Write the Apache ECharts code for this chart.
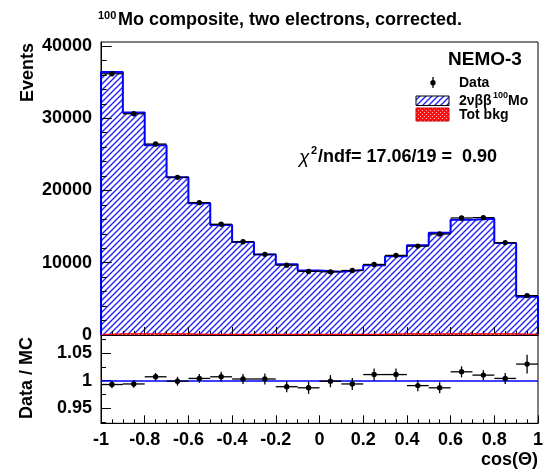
<!DOCTYPE html>
<html><head><meta charset="utf-8">
<script src="https://cdn.jsdelivr.net/npm/echarts@6/dist/echarts.min.js"></script>
<style>html,body{margin:0;padding:0;background:#fff}#c{width:552px;height:476px}</style>
</head><body><div id="c"></div>
<script>
// ---- data ----
const binCenters = [-0.95,-0.85,-0.75,-0.65,-0.55,-0.45,-0.35,-0.25,-0.15,-0.05,0.05,0.15,0.25,0.35,0.45,0.55,0.65,0.75,0.85,0.95];
const binWidth = 0.1;
const mcValues   = [36400,30800,26250,21840,18250,15220,12870,11130,9775,8920,8750,8980,9660,10900,12410,14160,15950,16090,12740,5290];
const dataValues = [36150,30620,26430,21820,18320,15330,12910,11160,9670,8800,8740,8930,9770,11020,12300,13980,16200,16250,12790,5450];
const bkgValues  = [170,170,170,170,80,80,80,80,80,80,80,80,80,170,170,170,170,170,170,80];
const ratioValues = [0.993,0.994,1.007,0.999,1.004,1.007,1.003,1.003,0.989,0.987,0.999,0.994,1.011,1.011,0.991,0.987,1.016,1.010,1.004,1.030];
const ratioErrors = [0.007,0.007,0.007,0.008,0.008,0.009,0.009,0.010,0.010,0.011,0.011,0.011,0.011,0.011,0.010,0.010,0.010,0.009,0.010,0.017];
const xTickLabels = [-1,-0.8,-0.6,-0.4,-0.2,0,0.2,0.4,0.6,0.8,1];
const yTicksUpper = [0,10000,20000,30000,40000];
const yMinorUpper = [2000,4000,6000,8000,12000,14000,16000,18000,22000,24000,26000,28000,32000,34000,36000,38000,40000];
const yTicksLower = [0.95,1,1.05];
const yMinorLower = [0.925,0.975,1.025,1.075];

const FONT = 'Liberation Sans, Arial, Helvetica, sans-serif';

function hatch(size, color, lw) {
  const c = document.createElement('canvas'); c.width = c.height = size;
  const g = c.getContext('2d'); g.strokeStyle = color; g.lineWidth = lw; g.beginPath();
  for (let k = -1; k <= 1; k++) { g.moveTo(k*size - 1, size + 1); g.lineTo(k*size + size + 1, -1); }
  g.stroke(); return c;
}
function dots(size) {
  const c = document.createElement('canvas'); c.width = c.height = size;
  const g = c.getContext('2d'); g.fillStyle = '#ff1010'; g.fillRect(0,0,size,size);
  g.fillStyle = '#ffb0b0'; g.fillRect(0,0,1,1); g.fillRect(2,2,1,1);
  return c;
}
const hatchCanvas = hatch(6, '#2222ff', 1.4);
const dotCanvas = dots(4);
const hatchFill = {image: hatchCanvas, repeat: 'repeat'};
const bkgFill = {image: dotCanvas, repeat: 'repeat'};

function stepOutline(vals) {
  const pts = [[binCenters[0]-binWidth/2, 0]];
  vals.forEach((v,i) => pts.push([binCenters[i]-binWidth/2, v]));
  const last = binCenters.length-1;
  pts.push([binCenters[last]+binWidth/2, vals[last]]);
  pts.push([binCenters[last]+binWidth/2, 0]);
  return pts;
}
function histFill(fill) {
  return function(params, api) {
    const c = api.value(0), v = api.value(1);
    const p0 = api.coord([c - binWidth/2, 0]);
    const p1 = api.coord([c + binWidth/2, v]);
    return {type:'rect', shape:{x:p0[0], y:p1[1], width:p1[0]-p0[0]+0.5, height:p0[1]-p1[1]}, style:{fill: fill}};
  };
}

const chart = echarts.init(document.getElementById('c'), null, {renderer:'canvas'});
const axisTxt = {fontSize:18, fontWeight:'bold', color:'#000', fontFamily:FONT};

const option = {
  animation: false,
  backgroundColor: '#fff',
  grid: [
    {left:101, right:14, top:42, height:293, show:true, borderColor:'#000', borderWidth:1, backgroundColor:'transparent'},
    {left:101, right:14, top:335, height:88.3, show:true, borderColor:'#000', borderWidth:1, backgroundColor:'transparent'}
  ],
  xAxis: [
    {gridIndex:0, type:'value', min:-1, max:1, interval:0.2, z:4,
     axisLine:{onZero:false, lineStyle:{color:'#000', width:1}},
     axisTick:{inside:true, length:8, lineStyle:{color:'#000'}},
     minorTick:{show:true, splitNumber:4, length:4, lineStyle:{color:'#000'}},
     axisLabel:{show:false}, splitLine:{show:false}},
    {gridIndex:1, type:'value', min:-1, max:1, interval:0.2, z:4,
     axisLine:{onZero:false, lineStyle:{color:'#000', width:1}},
     axisTick:{inside:true, length:8, lineStyle:{color:'#000'}},
     minorTick:{show:true, splitNumber:4, length:4, lineStyle:{color:'#000'}},
     axisLabel:Object.assign({margin:8, showMinLabel:true, showMaxLabel:true, customValues:xTickLabels,
       formatter: v => String(Math.round(v*10)/10)}, axisTxt),
     splitLine:{show:false}}
  ],
  yAxis: [
    {gridIndex:0, type:'value', position:'left', min:0, max:40550, z:4,
     axisLine:{show:true, onZero:false, lineStyle:{color:'#000'}},
     axisTick:{show:true, inside:true, length:10.7, customValues:yTicksUpper, lineStyle:{color:'#000'}},
     axisLabel:Object.assign({margin:9, customValues:yTicksUpper, formatter: v => String(Math.round(v))}, axisTxt),
     splitLine:{show:false}},
    {gridIndex:0, type:'value', position:'left', offset:0, min:0, max:40550, z:4,
     axisLine:{show:false, onZero:false},
     axisTick:{show:true, inside:true, length:5.7, customValues:yMinorUpper, lineStyle:{color:'#000'}},
     axisLabel:{show:false}, splitLine:{show:false}},
    {gridIndex:1, type:'value', position:'left', min:0.9227, max:1.0827, z:4,
     axisLine:{show:true, onZero:false, lineStyle:{color:'#000'}},
     axisTick:{show:true, inside:true, length:10, customValues:yTicksLower, lineStyle:{color:'#000'}},
     axisLabel:Object.assign({margin:9, customValues:yTicksLower, formatter: v => String(Math.round(v*100)/100)}, axisTxt),
     splitLine:{show:false}},
    {gridIndex:1, type:'value', position:'left', offset:0, min:0.9227, max:1.0827, z:4,
     axisLine:{show:false, onZero:false},
     axisTick:{show:true, inside:true, length:5, customValues:yMinorLower, lineStyle:{color:'#000'}},
     axisLabel:{show:false}, splitLine:{show:false}}
  ],
  series: [
    {type:'custom', name:'2vbb', xAxisIndex:0, yAxisIndex:0, z:2, silent:true,
     data: mcValues.map((v,i) => [binCenters[i], v]), renderItem: histFill(hatchFill)},
    {type:'line', xAxisIndex:0, yAxisIndex:0, z:3, silent:true, step:'end', symbol:'none',
     data: stepOutline(mcValues), lineStyle:{color:'#0000ff', width:2}},
    {type:'custom', name:'bkg', xAxisIndex:0, yAxisIndex:0, z:6, silent:true,
     data: bkgValues.map((v,i) => [binCenters[i], v]), renderItem: histFill(bkgFill)},
    {type:'line', xAxisIndex:0, yAxisIndex:0, z:6, silent:true, step:'end', symbol:'none',
     data: stepOutline(bkgValues), lineStyle:{color:'#ff0000', width:1.2}},
    {type:'custom', name:'Data', xAxisIndex:0, yAxisIndex:0, z:7, silent:true,
     data: dataValues.map((v,i) => [binCenters[i], v]),
     renderItem: function(params, api) {
       const c = api.value(0), v = api.value(1);
       const pl = api.coord([c - binWidth/2, v]), pr = api.coord([c + binWidth/2, v]), pc = api.coord([c, v]);
       return {type:'group', children:[
         {type:'line', shape:{x1:pl[0], y1:pl[1], x2:pr[0], y2:pr[1]}, style:{stroke:'#000', lineWidth:1.2}},
         {type:'circle', shape:{cx:pc[0], cy:pc[1], r:2.7}, style:{fill:'#000'}}
       ]};
     }},
    {type:'custom', name:'Ratio', xAxisIndex:1, yAxisIndex:2, z:7, silent:true,
     data: ratioValues.map((v,i) => [binCenters[i], v, ratioErrors[i]]),
     renderItem: function(params, api) {
       const c = api.value(0), v = api.value(1), e = api.value(2);
       const pl = api.coord([c - binWidth/2, v]), pr = api.coord([c + binWidth/2, v]);
       const pt = api.coord([c, v + e]), pb = api.coord([c, v - e]), pc = api.coord([c, v]);
       return {type:'group', children:[
         {type:'line', shape:{x1:pl[0], y1:pl[1], x2:pr[0], y2:pr[1]}, style:{stroke:'#000', lineWidth:1.3}},
         {type:'line', shape:{x1:pt[0], y1:pt[1], x2:pb[0], y2:pb[1]}, style:{stroke:'#000', lineWidth:1.3}},
         {type:'circle', shape:{cx:pc[0], cy:pc[1], r:2.7}, style:{fill:'#000'}}
       ]};
     },
     markLine:{silent:true, symbol:'none', label:{show:false}, z:5,
       lineStyle:{color:'#0000ff', width:1.5, type:'solid'}, data:[{yAxis:1}]}}
  ],
  graphic: [
    {type:'text', x:98, y:16, style:{text:'100', font:'bold 11px '+FONT, fill:'#000', verticalAlign:'middle'}},
    {type:'text', x:118, y:20, style:{text:'Mo composite, two electrons, corrected.', font:'bold 18px '+FONT, fill:'#000', verticalAlign:'middle'}},
    {type:'text', x:28, y:43, rotation:Math.PI/2, style:{text:'Events', font:'bold 18px '+FONT, fill:'#000', align:'right', verticalAlign:'middle'}},
    {type:'text', x:27, y:337, rotation:Math.PI/2, style:{text:'Data / MC', font:'bold 18px '+FONT, fill:'#000', align:'right', verticalAlign:'middle'}},
    {type:'text', x:538, y:460, style:{text:'cos(\u0398)', font:'bold 18px '+FONT, fill:'#000', align:'right', verticalAlign:'middle'}},
    {type:'text', x:448, y:60, style:{text:'NEMO-3', font:'bold 19px '+FONT, fill:'#000', verticalAlign:'middle'}},
    {type:'line', shape:{x1:433, y1:77, x2:433, y2:88}, style:{stroke:'#000', lineWidth:1.3}},
    {type:'circle', shape:{cx:433, cy:82.7, r:2.7}, style:{fill:'#000'}},
    {type:'text', x:459, y:83, style:{text:'Data', font:'bold 14px '+FONT, fill:'#000', verticalAlign:'middle'}},
    {type:'rect', shape:{x:416, y:96, width:33, height:9.5}, style:{fill:hatchFill, stroke:'#000', lineWidth:1}},
    {type:'text', x:459, y:101, style:{text:'2\u03bd\u03b2\u03b2', font:'bold 14px '+FONT, fill:'#000', verticalAlign:'middle'}},
    {type:'text', x:493, y:96, style:{text:'100', font:'bold 9px '+FONT, fill:'#000', verticalAlign:'middle'}},
    {type:'text', x:508, y:101, style:{text:'Mo', font:'bold 14px '+FONT, fill:'#000', verticalAlign:'middle'}},
    {type:'rect', shape:{x:416, y:108, width:33, height:13}, style:{fill:bkgFill, stroke:'#cc0000', lineWidth:1}},
    {type:'text', x:459, y:115, style:{text:'Tot bkg', font:'bold 14px '+FONT, fill:'#000', verticalAlign:'middle'}},
    {type:'text', x:299, y:158, style:{text:'\u03c7', font:'italic 19px '+FONT, fill:'#000', verticalAlign:'middle'}},
    {type:'text', x:311, y:151, style:{text:'2', font:'bold 11px '+FONT, fill:'#000', verticalAlign:'middle'}},
    {type:'text', x:318, y:157, style:{text:'/ndf= 17.06/19 =  0.90', font:'bold 18px '+FONT, fill:'#000', verticalAlign:'middle'}}
  ]
};
chart.setOption(option);
</script></body></html>
